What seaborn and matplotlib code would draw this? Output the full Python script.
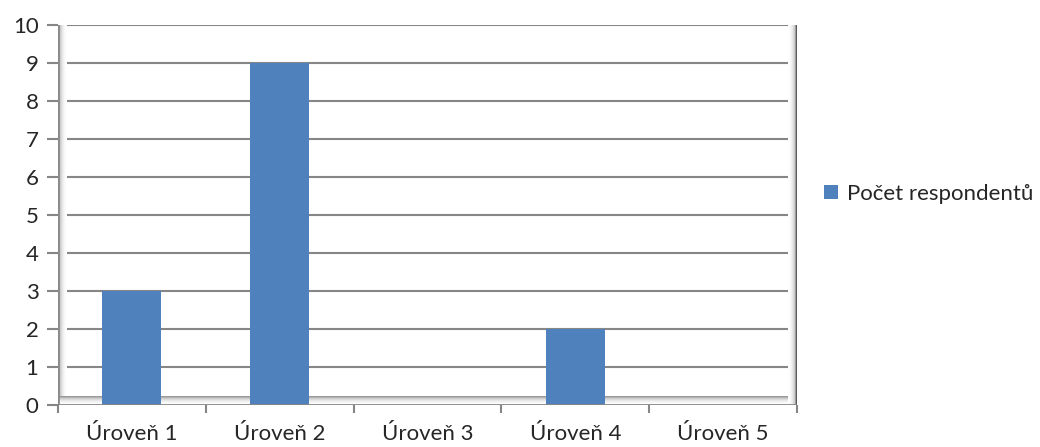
import numpy as np
import pandas as pd
import matplotlib
matplotlib.use("Agg")
import matplotlib.pyplot as plt
from matplotlib.colors import LinearSegmentedColormap
import seaborn as sns

categories = ["Úroveň 1", "Úroveň 2", "Úroveň 3", "Úroveň 4", "Úroveň 5"]
values = [3, 9, 0, 2, 0]
series_name = "Počet respondentů"

df = pd.DataFrame({"kategorie": categories, "pocet": values, "rada": series_name})

sns.set_style("white")
plt.rcParams["font.family"] = ["Lato", "DejaVu Sans"]

fig = plt.figure(figsize=(10.4, 4.47), dpi=100)
ax = fig.add_axes([58 / 1040, 42 / 447, (797 - 58) / 1040, (405 - 25) / 447])

bar_color = "#4F81BD"
sns.barplot(data=df, x="kategorie", y="pocet", hue="rada", palette=[bar_color],
            width=0.4, ax=ax, zorder=3, saturation=1, edgecolor="none", linewidth=0)

ax.set_ylim(0, 10)
ax.set_xlim(-0.5, 4.5)
ax.set_yticks(range(0, 11))
ax.set_xlabel("")
ax.set_ylabel("")

# horizontal gridlines
for yv in range(1, 11):
    ax.axhline(yv, color="#868686", lw=1.5, zorder=1)

# shaded walls: left, floor and right edges
wall_cmap = LinearSegmentedColormap.from_list("wall", ["#ffffff", "#d0d0d0", "#8c8c8c"])

def grad(extent, horizontal, reverse):
    g = np.linspace(0, 1, 64) ** 2
    if reverse:
        g = g[::-1]
    img = g[np.newaxis, :] if horizontal else g[:, np.newaxis]
    ax.imshow(img, extent=extent, transform=ax.transAxes, cmap=wall_cmap,
              vmin=0, vmax=1, aspect="auto", zorder=2, interpolation="bilinear")

w = 9 / 739
h = 9 / 380
grad([0, w, 0, 1], True, True)          # left wall
grad([0, 1, 0, h], False, True)         # floor
grad([1 - w, 1, 0, 1], True, False)     # right edge
ax.plot([0, 0], [0, 1], transform=ax.transAxes, color="#8a8a8a", lw=2, zorder=4)
ax.plot([1, 1], [0, 1], transform=ax.transAxes, color="#5a5a5a", lw=2.5, zorder=4)
ax.plot([0, 1], [0, 0], transform=ax.transAxes, color="#868686", lw=2, zorder=4)

for s in ax.spines.values():
    s.set_visible(False)

# y ticks on the left
ax.tick_params(axis="y", length=8, width=1.5, color="#868686", left=True, pad=6, labelsize=16)
# x ticks at category boundaries
ax.set_xticks(range(5))
ax.set_xticks(np.arange(-0.5, 5, 1), minor=True)
ax.tick_params(axis="x", which="major", length=0, pad=14, labelsize=16)
ax.tick_params(axis="x", which="minor", length=6, width=1.5, color="#868686", bottom=True)
ax.set_xlim(-0.5, 4.5)
ax.set_ylim(0, 10)

leg = ax.legend(loc="center left", bbox_to_anchor=(1.025, 0.555), frameon=False,
                fontsize=16, handlelength=0.6, handleheight=0.6, handletextpad=0.4,
                borderaxespad=0)

fig.savefig("out.png", dpi=100, facecolor="white")
